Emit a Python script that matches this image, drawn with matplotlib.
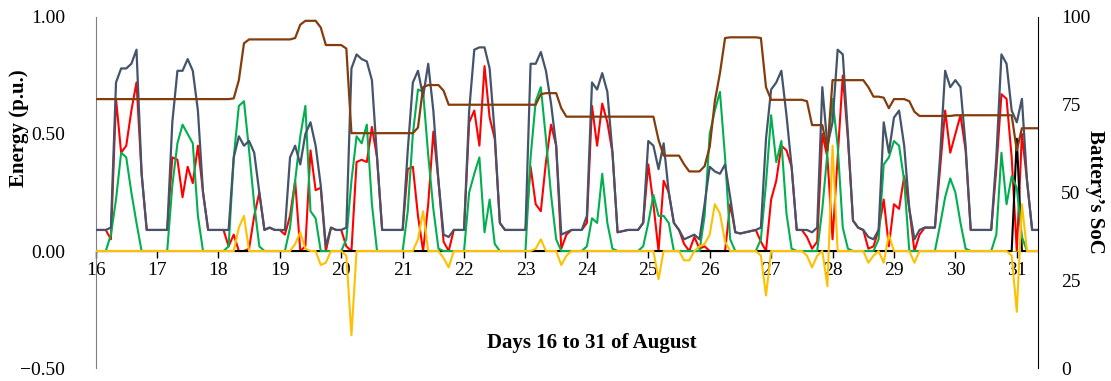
import numpy as np
import matplotlib
matplotlib.use('Agg')
import matplotlib.pyplot as plt
from matplotlib.ticker import FuncFormatter

plt.rcParams['font.family'] = ['Liberation Serif', 'DejaVu Serif']

# 2-hourly samples, 16 Aug 00:00 -> 31 Aug 08:00 (12 per day)
load = [
    0.09, 0.09, 0.09, 0.10, 0.72, 0.78, 0.78, 0.80, 0.86, 0.33, 0.09, 0.09,  # 16
    0.09, 0.09, 0.09, 0.55, 0.77, 0.77, 0.82, 0.77, 0.60, 0.25, 0.09, 0.09,  # 17
    0.09, 0.09, 0.09, 0.40, 0.49, 0.45, 0.47, 0.42, 0.25, 0.09, 0.10, 0.09,  # 18
    0.09, 0.09, 0.40, 0.45, 0.37, 0.50, 0.55, 0.45, 0.28, 0.02, 0.10, 0.09,  # 19
    0.09, 0.10, 0.78, 0.84, 0.82, 0.81, 0.73, 0.40, 0.09, 0.09, 0.09, 0.09,  # 20
    0.09, 0.43, 0.72, 0.77, 0.66, 0.80, 0.60, 0.30, 0.07, 0.06, 0.09, 0.09,  # 21
    0.09, 0.60, 0.86, 0.87, 0.87, 0.78, 0.50, 0.12, 0.09, 0.09, 0.09, 0.09,  # 22
    0.09, 0.80, 0.80, 0.85, 0.77, 0.63, 0.45, 0.07, 0.08, 0.09, 0.09, 0.09,  # 23
    0.15, 0.72, 0.69, 0.76, 0.68, 0.42, 0.08, 0.085, 0.09, 0.09, 0.09, 0.12,  # 24
    0.47, 0.45, 0.35, 0.46, 0.25, 0.12, 0.09, 0.05, 0.06, 0.07, 0.05, 0.20,  # 25
    0.36, 0.34, 0.33, 0.37, 0.23, 0.08, 0.075, 0.08, 0.085, 0.09, 0.10, 0.48,  # 26
    0.69, 0.72, 0.77, 0.58, 0.36, 0.09, 0.09, 0.09, 0.08, 0.10, 0.70, 0.45,  # 27
    0.55, 0.86, 0.84, 0.50, 0.13, 0.10, 0.09, 0.06, 0.05, 0.09, 0.55, 0.42,  # 28
    0.57, 0.60, 0.45, 0.18, 0.05, 0.09, 0.10, 0.10, 0.10, 0.40, 0.77, 0.70,  # 29
    0.73, 0.70, 0.45, 0.09, 0.09, 0.09, 0.09, 0.09, 0.40, 0.84, 0.80, 0.60,  # 30
    0.55, 0.65, 0.30, 0.09, 0.09,                                            # 31
]

grid = [
    0.09, 0.09, 0.09, 0.05, 0.65, 0.42, 0.45, 0.60, 0.72, 0.33, 0.09, 0.09,
    0.09, 0.09, 0.09, 0.40, 0.39, 0.23, 0.36, 0.29, 0.45, 0.25, 0.09, 0.09,
    0.09, 0.09, 0.02, 0.07, 0.00, 0.00, 0.01, 0.15, 0.25, 0.09, 0.10, 0.09,
    0.09, 0.07, 0.15, 0.30, 0.00, 0.02, 0.43, 0.26, 0.27, 0.00, 0.10, 0.09,
    0.09, 0.02, 0.00, 0.38, 0.39, 0.38, 0.53, 0.40, 0.09, 0.09, 0.09, 0.09,
    0.09, 0.35, 0.36, 0.15, 0.00, 0.20, 0.51, 0.30, 0.04, 0.00, 0.09, 0.09,
    0.09, 0.55, 0.60, 0.45, 0.79, 0.57, 0.48, 0.12, 0.09, 0.09, 0.09, 0.09,
    0.09, 0.36, 0.20, 0.17, 0.38, 0.54, 0.45, 0.01, 0.07, 0.09, 0.09, 0.09,
    0.12, 0.62, 0.45, 0.63, 0.55, 0.42, 0.08, 0.085, 0.09, 0.09, 0.09, 0.12,
    0.37, 0.20, 0.00, 0.30, 0.25, 0.12, 0.09, 0.03, 0.00, 0.06, 0.01, 0.02,
    0.00, 0.00, 0.00, 0.00, 0.20, 0.08, 0.075, 0.08, 0.085, 0.09, 0.04, 0.00,
    0.22, 0.30, 0.45, 0.43, 0.36, 0.09, 0.09, 0.06, 0.01, 0.04, 0.50, 0.40,
    0.05, 0.40, 0.75, 0.48, 0.13, 0.10, 0.09, 0.01, 0.02, 0.09, 0.22, 0.02,
    0.20, 0.18, 0.32, 0.18, 0.00, 0.07, 0.10, 0.10, 0.10, 0.35, 0.60, 0.42,
    0.50, 0.58, 0.43, 0.09, 0.09, 0.09, 0.09, 0.09, 0.35, 0.67, 0.65, 0.40,
    0.00, 0.50, 0.30, 0.09, 0.09,
]

pv = [
    0.00, 0.00, 0.00, 0.07, 0.22, 0.42, 0.40, 0.25, 0.12, 0.00, 0.00, 0.00,
    0.00, 0.00, 0.00, 0.28, 0.46, 0.54, 0.50, 0.46, 0.15, 0.00, 0.00, 0.00,
    0.00, 0.00, 0.02, 0.40, 0.62, 0.64, 0.43, 0.20, 0.02, 0.00, 0.00, 0.00,
    0.00, 0.00, 0.10, 0.30, 0.49, 0.62, 0.17, 0.14, 0.00, 0.00, 0.00, 0.00,
    0.00, 0.05, 0.30, 0.49, 0.46, 0.54, 0.20, 0.00, 0.00, 0.00, 0.00, 0.00,
    0.00, 0.17, 0.50, 0.69, 0.68, 0.41, 0.18, 0.01, 0.00, 0.00, 0.00, 0.00,
    0.00, 0.25, 0.33, 0.40, 0.08, 0.22, 0.03, 0.00, 0.00, 0.00, 0.00, 0.00,
    0.00, 0.40, 0.64, 0.70, 0.48, 0.24, 0.05, 0.00, 0.00, 0.00, 0.00, 0.00,
    0.02, 0.14, 0.12, 0.33, 0.12, 0.01, 0.00, 0.00, 0.00, 0.00, 0.00, 0.02,
    0.12, 0.24, 0.15, 0.15, 0.12, 0.00, 0.00, 0.00, 0.00, 0.00, 0.00, 0.15,
    0.50, 0.60, 0.68, 0.40, 0.05, 0.00, 0.00, 0.00, 0.00, 0.00, 0.05, 0.29,
    0.58, 0.38, 0.47, 0.16, 0.01, 0.00, 0.00, 0.00, 0.00, 0.00, 0.18, 0.42,
    0.65, 0.45, 0.10, 0.01, 0.00, 0.00, 0.00, 0.00, 0.00, 0.05, 0.37, 0.40,
    0.47, 0.45, 0.30, 0.00, 0.00, 0.00, 0.00, 0.00, 0.00, 0.11, 0.23, 0.31,
    0.25, 0.12, 0.01, 0.00, 0.00, 0.00, 0.00, 0.00, 0.07, 0.42, 0.20, 0.32,
    0.27, 0.06, 0.00, 0.00, 0.00,
]

battery = [
    0.00, 0.00, 0.00, 0.00, 0.00, 0.00, 0.00, 0.00, 0.00, 0.00, 0.00, 0.00,
    0.00, 0.00, 0.00, 0.00, 0.00, 0.00, 0.00, 0.00, 0.00, 0.00, 0.00, 0.00,
    0.00, 0.00, 0.00, 0.00, 0.10, 0.15, 0.00, 0.00, 0.00, 0.00, 0.00, 0.00,
    0.00, 0.00, 0.00, 0.03, 0.08, 0.01, 0.00, 0.00, -0.06, -0.05, 0.00, 0.00,
    0.00, -0.02, -0.36, 0.00, 0.00, 0.00, 0.00, 0.00, 0.00, 0.00, 0.00, 0.00,
    0.00, 0.00, 0.00, 0.05, 0.17, 0.00, 0.00, 0.00, -0.03, -0.07, 0.00, 0.00,
    0.00, 0.00, 0.00, 0.00, 0.00, 0.00, 0.00, 0.00, 0.00, 0.00, 0.00, 0.00,
    0.00, 0.00, 0.01, 0.05, 0.00, 0.00, 0.00, -0.06, -0.02, 0.00, 0.00, 0.00,
    0.00, 0.00, 0.00, 0.00, 0.00, 0.00, 0.00, 0.00, 0.00, 0.00, 0.00, 0.00,
    0.00, 0.00, -0.12, 0.00, 0.00, 0.00, 0.00, -0.04, -0.04, 0.00, 0.02, 0.03,
    0.07, 0.20, 0.16, 0.04, 0.00, 0.00, 0.00, 0.00, 0.00, 0.00, -0.02, -0.19,
    0.00, 0.00, 0.00, 0.00, 0.00, 0.00, 0.00, -0.02, -0.07, -0.02, 0.00, -0.15,
    0.45, 0.00, 0.00, 0.00, 0.00, 0.00, 0.00, -0.05, -0.02, 0.00, -0.05, 0.07,
    0.00, 0.00, 0.00, 0.00, -0.05, 0.00, 0.00, 0.00, 0.00, 0.00, 0.00, 0.00,
    0.00, 0.00, 0.00, 0.00, 0.00, 0.00, 0.00, 0.00, 0.00, 0.00, 0.00, -0.02,
    -0.26, 0.20, 0.00, 0.00, 0.00,
]

export = [
    0.00, 0.00, 0.00, 0.00, 0.00, 0.00, 0.00, 0.00, 0.00, 0.00, 0.00, 0.00,
    0.00, 0.00, 0.00, 0.00, 0.00, 0.00, 0.00, 0.00, 0.00, 0.00, 0.00, 0.00,
    0.00, 0.00, 0.00, 0.00, 0.00, 0.00, 0.00, 0.00, 0.00, 0.00, 0.00, 0.00,
    0.00, 0.00, 0.00, 0.00, 0.00, 0.00, 0.00, 0.00, 0.00, 0.00, 0.00, 0.00,
    0.00, 0.00, 0.00, 0.00, 0.00, 0.00, 0.00, 0.00, 0.00, 0.00, 0.00, 0.00,
    0.00, 0.00, 0.00, 0.00, 0.00, 0.00, 0.00, 0.00, 0.00, 0.00, 0.00, 0.00,
    0.00, 0.00, 0.00, 0.00, 0.00, 0.00, 0.00, 0.00, 0.00, 0.00, 0.00, 0.00,
    0.00, 0.00, 0.00, 0.00, 0.00, 0.00, 0.00, 0.00, 0.00, 0.00, 0.00, 0.00,
    0.00, 0.00, 0.00, 0.00, 0.00, 0.00, 0.00, 0.00, 0.00, 0.00, 0.00, 0.00,
    0.00, 0.00, 0.00, 0.00, 0.00, 0.00, 0.00, 0.00, 0.00, 0.00, 0.00, 0.00,
    0.00, 0.00, 0.00, 0.00, 0.00, 0.00, 0.00, 0.00, 0.00, 0.00, 0.00, 0.00,
    0.00, 0.00, 0.00, 0.00, 0.00, 0.00, 0.00, 0.00, 0.00, 0.00, 0.00, 0.00,
    0.00, 0.00, 0.00, 0.00, 0.00, 0.00, 0.00, 0.00, 0.00, 0.00, 0.00, 0.00,
    0.00, 0.00, 0.00, 0.00, 0.00, 0.00, 0.00, 0.00, 0.00, 0.00, 0.00, 0.00,
    0.00, 0.00, 0.00, 0.00, 0.00, 0.00, 0.00, 0.00, 0.00, 0.00, 0.00, 0.00,
    0.48, 0.00, 0.00, 0.00, 0.00,
]

soc = [
    76.6, 76.6, 76.6, 76.6, 76.6, 76.6, 76.6, 76.6, 76.6, 76.6, 76.6, 76.6,
    76.6, 76.6, 76.6, 76.6, 76.6, 76.6, 76.6, 76.6, 76.6, 76.6, 76.6, 76.6,
    76.6, 76.6, 76.6, 76.8, 82.0, 92.5, 93.6, 93.6, 93.6, 93.6, 93.6, 93.6,
    93.6, 93.6, 93.6, 94.0, 97.8, 98.9, 98.9, 98.9, 97.0, 92.0, 92.0, 92.0,
    92.0, 91.0, 66.9, 66.9, 66.9, 66.9, 66.9, 66.9, 66.9, 66.9, 66.9, 66.9,
    66.9, 66.9, 66.9, 68.5, 80.0, 80.6, 80.6, 80.6, 79.0, 75.0, 75.0, 75.0,
    75.0, 75.0, 75.0, 75.0, 75.0, 75.0, 75.0, 75.0, 75.0, 75.0, 75.0, 75.0,
    75.0, 75.0, 75.0, 78.0, 78.3, 78.3, 78.3, 74.0, 71.6, 71.6, 71.6, 71.6,
    71.6, 71.6, 71.6, 71.6, 71.6, 71.6, 71.6, 71.6, 71.6, 71.6, 71.6, 71.6,
    71.6, 71.6, 65.0, 60.5, 60.5, 60.5, 60.5, 58.0, 56.0, 56.0, 56.0, 57.5,
    63.0, 76.0, 84.0, 94.0, 94.2, 94.2, 94.2, 94.2, 94.2, 94.2, 94.0, 80.0,
    76.4, 76.4, 76.4, 76.4, 76.4, 76.4, 76.4, 76.0, 69.2, 69.2, 69.2, 62.0,
    82.0, 82.0, 82.0, 82.0, 82.0, 82.0, 82.0, 80.0, 77.3, 77.3, 77.0, 74.0,
    76.6, 76.6, 76.6, 76.0, 73.0, 71.8, 71.8, 71.8, 71.8, 71.8, 71.8, 71.8,
    72.0, 72.0, 72.0, 72.0, 72.0, 72.0, 72.0, 72.0, 72.0, 72.0, 72.0, 72.0,
    62.0, 68.3, 68.3, 68.3, 68.3,
]

day_ticks = list(range(16, 32))

t = 16 + np.arange(len(load)) / 12.0

fig = plt.figure(figsize=(11.11, 3.81), dpi=100)
ax = fig.add_axes([0.086, 0.034, 0.848, 0.9215])
ax2 = ax.twinx()

ax.plot(t, grid, color='#FF0000', lw=1.5, zorder=2)
ax.plot(t, export, color='#000000', lw=1.5, zorder=3)
ax.plot(t, pv, color='#00B050', lw=1.5, zorder=4)
ax.plot(t, load, color='#44546A', lw=1.6, zorder=5)
ax.plot(t, battery, color='#FFC000', lw=1.5, zorder=6)
ax2.plot(t, soc, color='#843C0C', lw=1.6)

ax.set_xlim(16, 31.34)
ax.set_ylim(-0.5, 1.0)
ax2.set_ylim(0, 100)

ax.set_yticks([-0.5, 0.0, 0.5, 1.0])
ax.yaxis.set_major_formatter(
    FuncFormatter(lambda v, _: ('%.2f' % v).replace('-', '\u2212')))
ax2.set_yticks([0, 25, 50, 75, 100])
ax.set_xticks(day_ticks)
ax.set_xticklabels([str(d) for d in day_ticks])

ax.tick_params(axis='y', length=0, pad=22, labelsize=14)
ax2.tick_params(axis='y', length=0, pad=17, labelsize=14)
ax.tick_params(axis='x', direction='out', length=5, width=1, pad=3,
               labelsize=14, color='#000000')

for s in ('top', 'right'):
    ax.spines[s].set_visible(False)
ax.spines['left'].set_color('#7F7F7F')
ax.spines['bottom'].set_position(('data', 0))
ax.spines['bottom'].set_color('#A6A600')
for s in ('top', 'left', 'bottom'):
    ax2.spines[s].set_visible(False)
ax2.spines['right'].set_color('#000000')

fig.text(0.017, 1 - 128 / 381, 'Energy (p.u.)', rotation=90, ha='center',
         va='center', fontsize=15, fontweight='bold')
fig.text(0.986, 1 - 192 / 381, 'Battery\u2019s SoC', rotation=270, ha='center',
         va='center', fontsize=15, fontweight='bold')
fig.text(592 / 1111, 1 - 343 / 381, 'Days 16 to 31 of August', ha='center',
         va='center', fontsize=15, fontweight='bold')

fig.savefig('out.png', dpi=100)
